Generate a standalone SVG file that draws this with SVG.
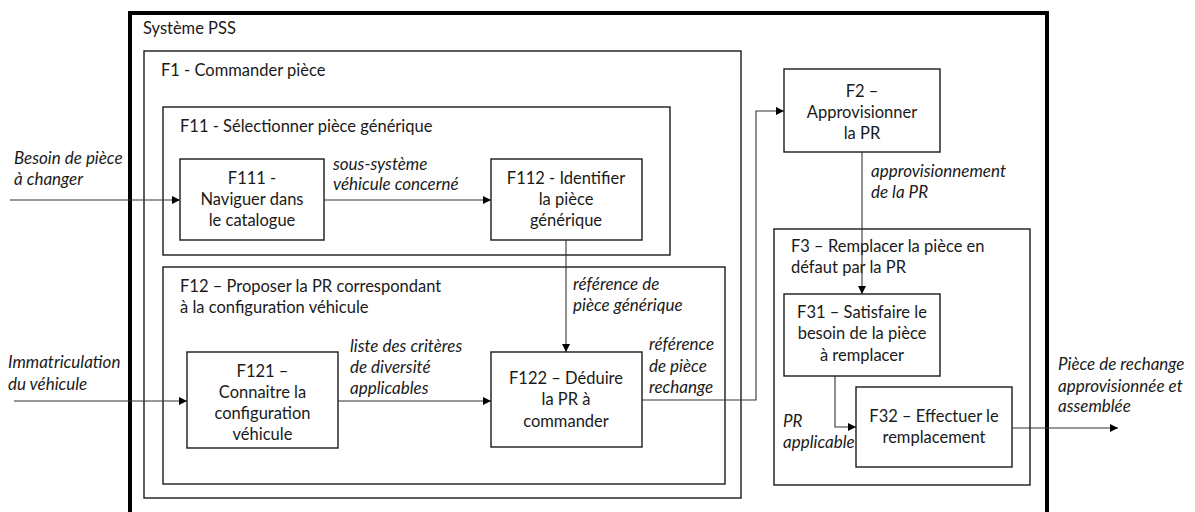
<svg xmlns="http://www.w3.org/2000/svg" width="1195" height="512" viewBox="0 0 1195 512">
<style>
text{font-family:Lato,"Liberation Sans",sans-serif;font-size:16.5px;fill:#1a1a1a}
.c{text-anchor:middle}
.i{font-style:italic;font-size:17px}
.box{fill:none;stroke:#1a1a1a;stroke-width:1.4}
.con{fill:none;stroke:#333;stroke-width:1.1}
</style>
<defs>
<marker id="ar" viewBox="0 0 10 10" refX="10" refY="5" markerWidth="8" markerHeight="8" markerUnits="userSpaceOnUse" orient="auto">
<path d="M0,0 L10,5 L0,10 Z" fill="#000"/>
</marker>
</defs>
<rect x="0" y="0" width="1195" height="512" fill="#fff"/>

<g id="pss">
<rect x="130" y="13" width="917" height="510" fill="none" stroke="#000" stroke-width="4"/>
<text x="143" y="34">Système PSS</text>
</g>
<g id="F1">
<rect class="box" x="144" y="51" width="597" height="447"/>
<text x="161" y="76">F1 - Commander pièce</text>
</g>
<g id="F11">
<rect class="box" x="163" y="107" width="507" height="148"/>
<text x="180" y="132">F11 - Sélectionner pièce générique</text>
</g>
<g id="F111">
<rect class="box" x="180" y="159" width="144" height="81"/>
<text class="c" x="252" y="184">F111 -</text>
<text class="c" x="252" y="205">Naviguer dans</text>
<text class="c" x="252" y="226">le catalogue</text>
</g>
<g id="F112">
<rect class="box" x="491" y="159" width="151" height="81"/>
<text class="c" x="566" y="184">F112 - Identifier</text>
<text class="c" x="566" y="205">la pièce</text>
<text class="c" x="566" y="226">générique</text>
</g>
<g id="F12">
<rect class="box" x="163" y="267" width="562" height="217"/>
<text x="180" y="292">F12 – Proposer la PR correspondant</text>
<text x="180" y="313">à la configuration véhicule</text>
</g>
<g id="F121">
<rect class="box" x="187" y="352" width="151" height="96"/>
<text class="c" x="262.5" y="377">F121 –</text>
<text class="c" x="262.5" y="398">Connaitre la</text>
<text class="c" x="262.5" y="419">configuration</text>
<text class="c" x="262.5" y="440">véhicule</text>
</g>
<g id="F122">
<rect class="box" x="491" y="352" width="151" height="95"/>
<text class="c" x="566" y="384">F122 – Déduire</text>
<text class="c" x="566" y="405">la PR à</text>
<text class="c" x="566" y="427">commander</text>
</g>
<g id="F2">
<rect class="box" x="784" y="69" width="156" height="83"/>
<text class="c" x="862" y="97">F2 –</text>
<text class="c" x="862" y="118">Approvisionner</text>
<text class="c" x="862" y="139">la PR</text>
</g>
<g id="F3">
<rect class="box" x="774" y="229" width="256" height="256"/>
<text x="791" y="252">F3 – Remplacer la pièce en</text>
<text x="791" y="273">défaut par la PR</text>
</g>
<g id="F31">
<rect class="box" x="784" y="294" width="156" height="82"/>
<text class="c" x="862" y="318">F31 – Satisfaire le</text>
<text class="c" x="862" y="339">besoin de la pièce</text>
<text class="c" x="862" y="361">à remplacer</text>
</g>
<g id="F32">
<rect class="box" x="856" y="387" width="156" height="80"/>
<text class="c" x="934" y="422">F32 – Effectuer le</text>
<text class="c" x="934" y="443">remplacement</text>
</g>

<g id="connectors">
<path class="con" d="M10,200 H180" marker-end="url(#ar)"/>
<path class="con" d="M324,200 H491" marker-end="url(#ar)"/>
<path class="con" d="M566,240 V352" marker-end="url(#ar)"/>
<path class="con" d="M14,401 H187" marker-end="url(#ar)"/>
<path class="con" d="M338,401 H491" marker-end="url(#ar)"/>
<path class="con" d="M642,400 H756 V111 H784" marker-end="url(#ar)"/>
<path class="con" d="M862,152 V294" marker-end="url(#ar)"/>
<path class="con" d="M835,376 V427 H856" marker-end="url(#ar)"/>
<path class="con" d="M1012,428 H1118" marker-end="url(#ar)"/>
</g>

<g id="labels">
<text class="i" x="14" y="164">Besoin de pièce</text>
<text class="i" x="14" y="185">à changer</text>
<text class="i" x="333" y="170">sous-système</text>
<text class="i" x="333" y="190">véhicule concerné</text>
<text class="i" x="8" y="368">Immatriculation</text>
<text class="i" x="8" y="390">du véhicule</text>
<text class="i" x="350" y="352">liste des critères</text>
<text class="i" x="350" y="373">de diversité</text>
<text class="i" x="350" y="394">applicables</text>
<text class="i" x="573" y="290">référence de</text>
<text class="i" x="573" y="311">pièce générique</text>
<text class="i" x="649" y="350">référence</text>
<text class="i" x="649" y="372">de pièce</text>
<text class="i" x="649" y="393">rechange</text>
<text class="i" x="871" y="177">approvisionnement</text>
<text class="i" x="871" y="198">de la PR</text>
<text class="i" x="783" y="427">PR</text>
<text class="i" x="783" y="448">applicable</text>
<text class="i" x="1058" y="370">Pièce de rechange</text>
<text class="i" x="1058" y="392">approvisionnée et</text>
<text class="i" x="1058" y="412">assemblée</text>
</g>
</svg>
